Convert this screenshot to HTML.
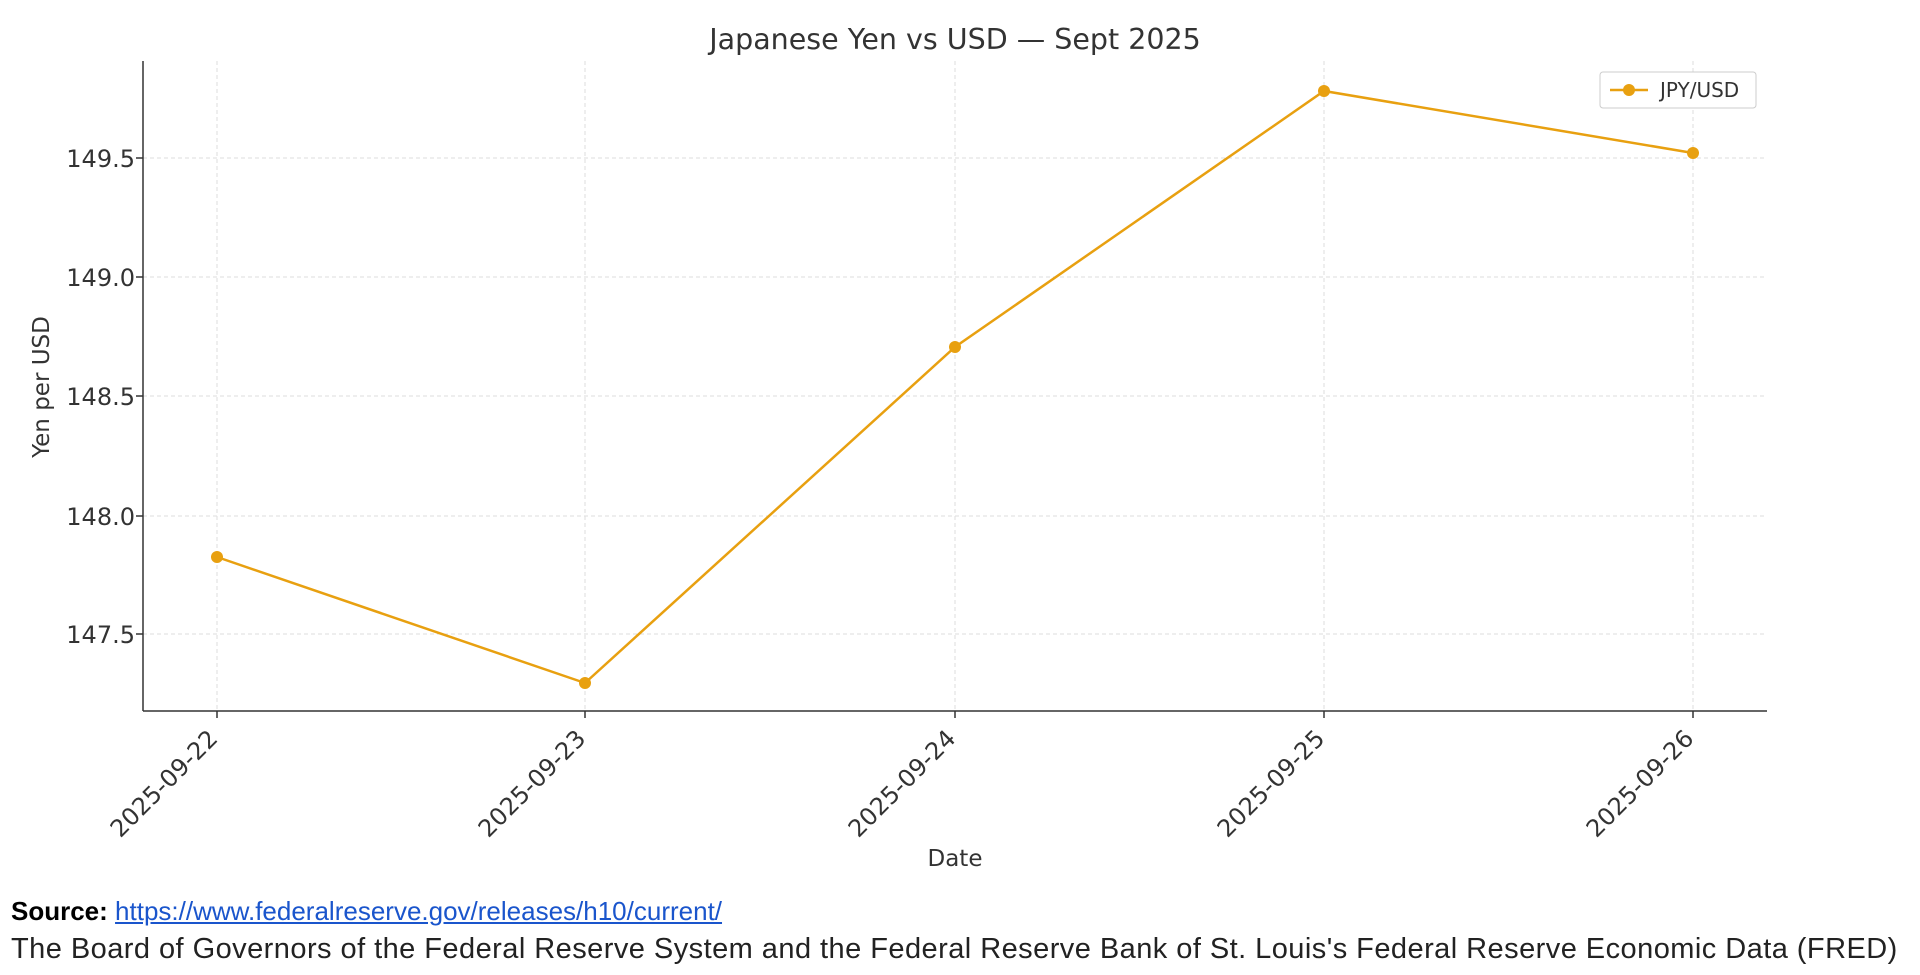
<!DOCTYPE html>
<html><head><style>
body{margin:0;background:#fff;width:1920px;height:975px;overflow:hidden;font-family:"DejaVu Sans",sans-serif}
.src{position:absolute;left:11px;font-family:"Liberation Sans",sans-serif;color:#222;white-space:nowrap}
</style></head><body>
<svg width="1920" height="975" style="position:absolute;left:0;top:0" font-family="DejaVu Sans, sans-serif">
<g stroke="#ddd" stroke-dasharray="4,3" stroke-width="1">
<line x1="217" y1="61" x2="217" y2="711"/><line x1="585" y1="61" x2="585" y2="711"/><line x1="955" y1="61" x2="955" y2="711"/><line x1="1324" y1="61" x2="1324" y2="711"/><line x1="1693" y1="61" x2="1693" y2="711"/>
<line x1="143" y1="158" x2="1767" y2="158"/><line x1="143" y1="277" x2="1767" y2="277"/><line x1="143" y1="396" x2="1767" y2="396"/><line x1="143" y1="516" x2="1767" y2="516"/><line x1="143" y1="634" x2="1767" y2="634"/>
</g>
<g stroke="#333" stroke-width="1.5"><line x1="143" y1="61" x2="143" y2="711"/><line x1="143" y1="711" x2="1767" y2="711"/>
<line x1="136" y1="158" x2="143" y2="158"/><line x1="136" y1="277" x2="143" y2="277"/><line x1="136" y1="396" x2="143" y2="396"/><line x1="136" y1="516" x2="143" y2="516"/><line x1="136" y1="634" x2="143" y2="634"/>
<line x1="217" y1="711" x2="217" y2="718"/><line x1="585" y1="711" x2="585" y2="718"/><line x1="955" y1="711" x2="955" y2="718"/><line x1="1324" y1="711" x2="1324" y2="718"/><line x1="1693" y1="711" x2="1693" y2="718"/></g>
<g font-size="24" fill="#333" text-anchor="end">
<text x="135" y="167">149.5</text><text x="135" y="286">149.0</text><text x="135" y="405">148.5</text><text x="135" y="525">148.0</text><text x="135" y="643">147.5</text>
<text transform="translate(219,740) rotate(-45)">2025-09-22</text>
<text transform="translate(587,740) rotate(-45)">2025-09-23</text>
<text transform="translate(957,740) rotate(-45)">2025-09-24</text>
<text transform="translate(1326,740) rotate(-45)">2025-09-25</text>
<text transform="translate(1695,740) rotate(-45)">2025-09-26</text>
</g>
<text x="955" y="866" font-size="23" fill="#333" text-anchor="middle">Date</text>
<text transform="translate(49,387) rotate(-90)" font-size="23" fill="#333" text-anchor="middle">Yen per USD</text>
<text x="955" y="49" font-size="28.5" fill="#333" text-anchor="middle">Japanese Yen vs USD — Sept 2025</text>
<polyline points="217,557 585,683 955,347 1324,91 1693,153" fill="none" stroke="#E8A010" stroke-width="2.5"/>
<g fill="#E8A010"><circle cx="217" cy="557" r="6"/><circle cx="585" cy="683" r="6"/><circle cx="955" cy="347" r="6"/><circle cx="1324" cy="91" r="6"/><circle cx="1693" cy="153" r="6"/></g>
<rect x="1600" y="72" width="156" height="36" rx="3" fill="#fff" stroke="#ccc"/>
<line x1="1610" y1="90" x2="1648" y2="90" stroke="#E8A010" stroke-width="2.5"/><circle cx="1629" cy="90" r="6" fill="#E8A010"/>
<text x="1660" y="97" font-size="20" fill="#333">JPY/USD</text>
</svg>
<div class="src" style="top:896px;font-size:26px"><b style="color:#000">Source:</b> <span style="color:#1a55cc;text-decoration:underline">https://www.federalreserve.gov/releases/h10/current/</span></div>
<div class="src" style="top:933px;font-size:29px;letter-spacing:0.45px">The Board of Governors of the Federal Reserve System and the Federal Reserve Bank of St. Louis's Federal Reserve Economic Data (FRED)</div>
</body></html>
